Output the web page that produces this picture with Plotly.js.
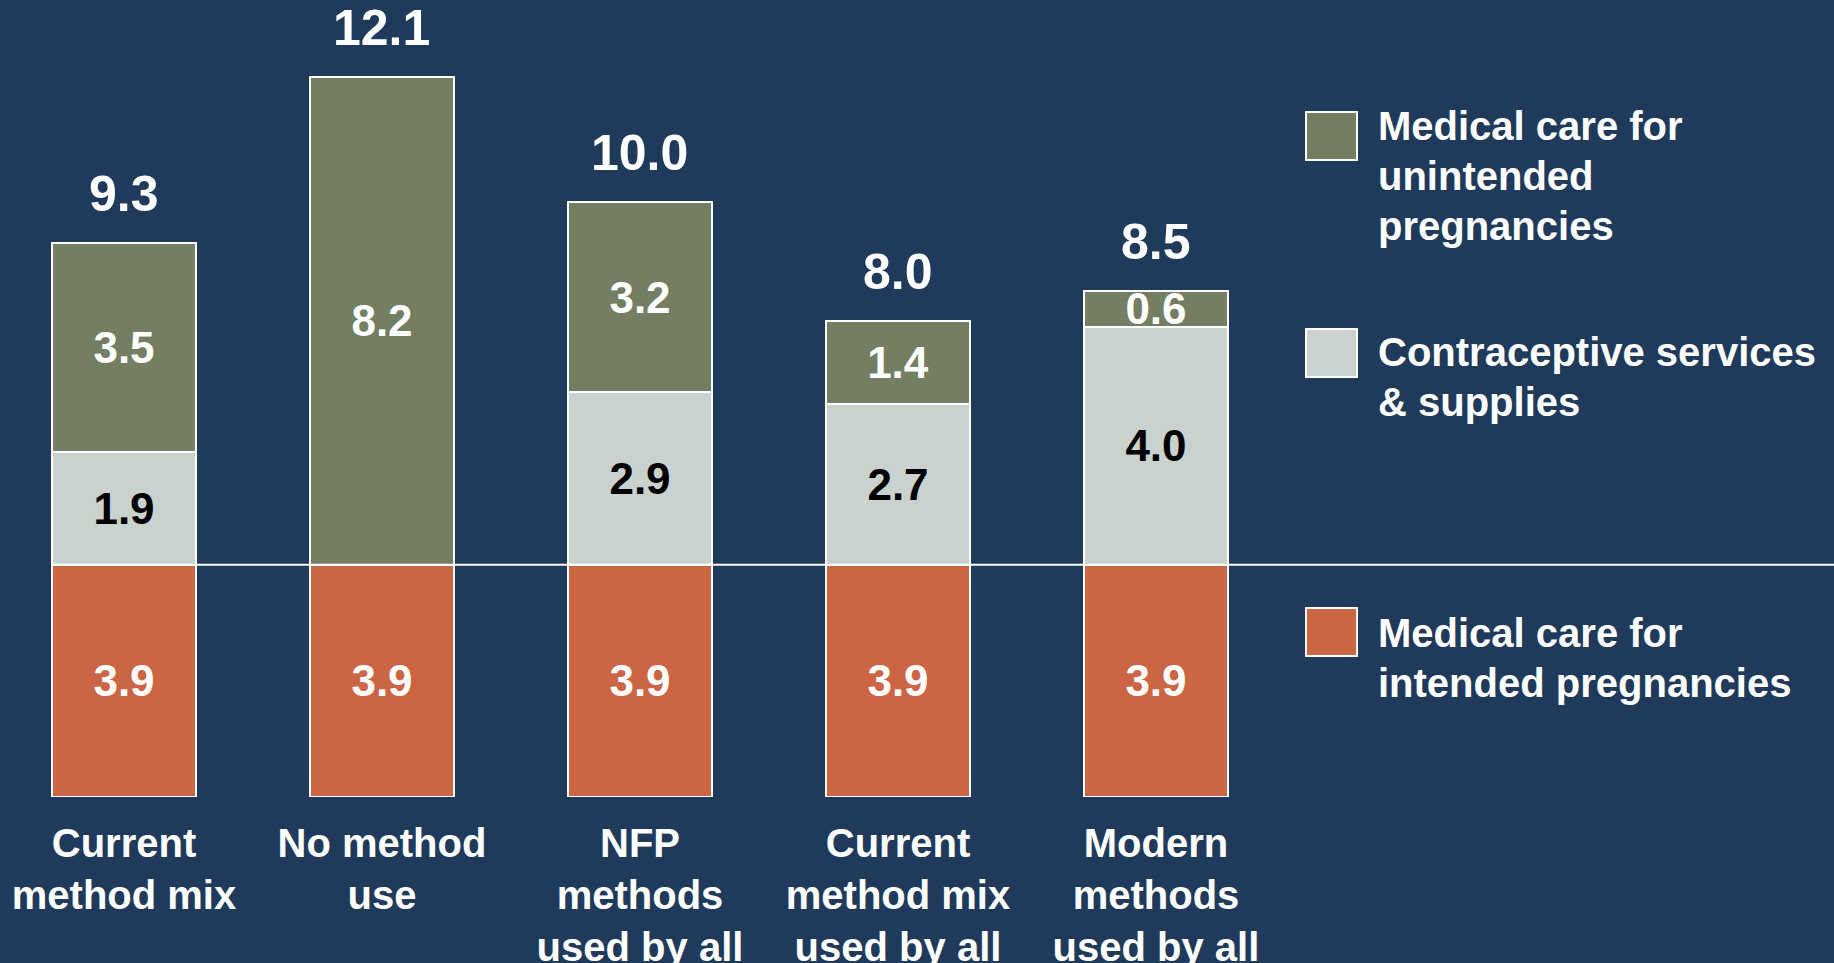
<!DOCTYPE html>
<html><head><meta charset="utf-8">
<script src="https://cdn.plot.ly/plotly-3.0.1.min.js"></script>
<style>html,body{margin:0;padding:0;background:#1F3A5A;overflow:hidden}</style>
</head><body><div id="chart" style="width:1834px;height:963px"></div>
<script>
// ---- data ----
const categories = ["Current<br>method mix", "No method<br>use", "NFP<br>methods<br>used by all", "Current<br>method mix<br>used by all", "Modern<br>methods<br>used by all"];
const intended = [3.9, 3.9, 3.9, 3.9, 3.9];
const contraceptive = [1.9, 0, 2.9, 2.7, 4.0];
const unintended = [3.5, 8.2, 3.2, 1.4, 0.6];
const totals = [9.3, 12.1, 10.0, 8.0, 8.5];
const seriesNames = ["Medical care for<br>intended pregnancies", "Contraceptive services<br>& supplies", "Medical care for<br>unintended<br>pregnancies"];

// ---- style ----
const BG = '#1F3A5A';
const COLORS = ['#CC6543', '#C9D2CC', '#747E63'];
const TEXTCOL = ['#FFFFFF', '#000000', '#FFFFFF'];
const FAM = '"Liberation Sans", Arial, Helvetica, sans-serif';
const W = 1834, H = 963, MB = 166, PH = H - MB;
const px2x = p => p / W;
const px2y = p => (PH - p) / PH;

const series = [intended, contraceptive, unintended];
const traces = series.map((vals, i) => ({
  type: 'bar',
  name: seriesNames[i],
  x: categories,
  y: vals,
  text: vals.map(v => v > 0 ? v.toFixed(1) : ''),
  textposition: 'inside',
  insidetextanchor: 'middle',
  textangle: 0,
  constraintext: 'none',
  cliponaxis: false,
  textfont: {family: FAM, size: 44, color: TEXTCOL[i], weight: 'bold'},
  marker: {color: COLORS[i], line: {color: '#FFFFFF', width: 2}},
  hoverinfo: 'skip'
}));

const annotations = categories.map((c, i) => ({
  x: c, y: totals[i], xref: 'x', yref: 'y',
  text: totals[i].toFixed(1), showarrow: false,
  yanchor: 'bottom', yshift: 19,
  font: {family: FAM, size: 50, color: '#FFFFFF', weight: 'bold'}
}));

// legend (drawn as swatches + labels)
const legendItems = [
  {s: 2, box: 112, text: 102},
  {s: 1, box: 329, text: 328},
  {s: 0, box: 608, text: 609}
];
const shapes = [{
  type: 'line', xref: 'paper', yref: 'y',
  x0: px2x(52), x1: 1, y0: intended[0], y1: intended[0],
  line: {color: '#FFFFFF', width: 2}, layer: 'above'
}];
legendItems.forEach(it => {
  shapes.push({
    type: 'rect', xref: 'paper', yref: 'paper',
    x0: px2x(1306), x1: px2x(1357), y0: px2y(it.box), y1: px2y(it.box + 48),
    fillcolor: COLORS[it.s], line: {color: '#FFFFFF', width: 2}
  });
  seriesNames[it.s].split('<br>').forEach((line, k) => {
    annotations.push({
      xref: 'paper', yref: 'paper', x: px2x(1376), y: px2y(it.text + k * 50),
      xanchor: 'left', yanchor: 'top', align: 'left', showarrow: false,
      text: line,
      font: {family: FAM, size: 40, color: '#FFFFFF', weight: 'bold'}
    });
  });
});

const layout = {
  width: W, height: H,
  paper_bgcolor: BG, plot_bgcolor: BG,
  margin: {l: 0, r: 0, t: 0, b: MB, pad: 0},
  barmode: 'stack',
  bargap: 0.442,
  showlegend: false,
  xaxis: {
    type: 'category', range: [-0.4806, 6.628],
    showgrid: false, zeroline: false, showline: false, ticks: '',
    tickfont: {family: FAM, size: 40, color: '#FFFFFF', weight: 'bold'},
    ticklabelstandoff: 19, fixedrange: true
  },
  yaxis: {range: [0, 13.39], visible: false, fixedrange: true},
  shapes: shapes,
  annotations: annotations,
  hovermode: false
};

Plotly.newPlot('chart', traces, layout, {displayModeBar: false, staticPlot: true});
</script>
</body></html>
